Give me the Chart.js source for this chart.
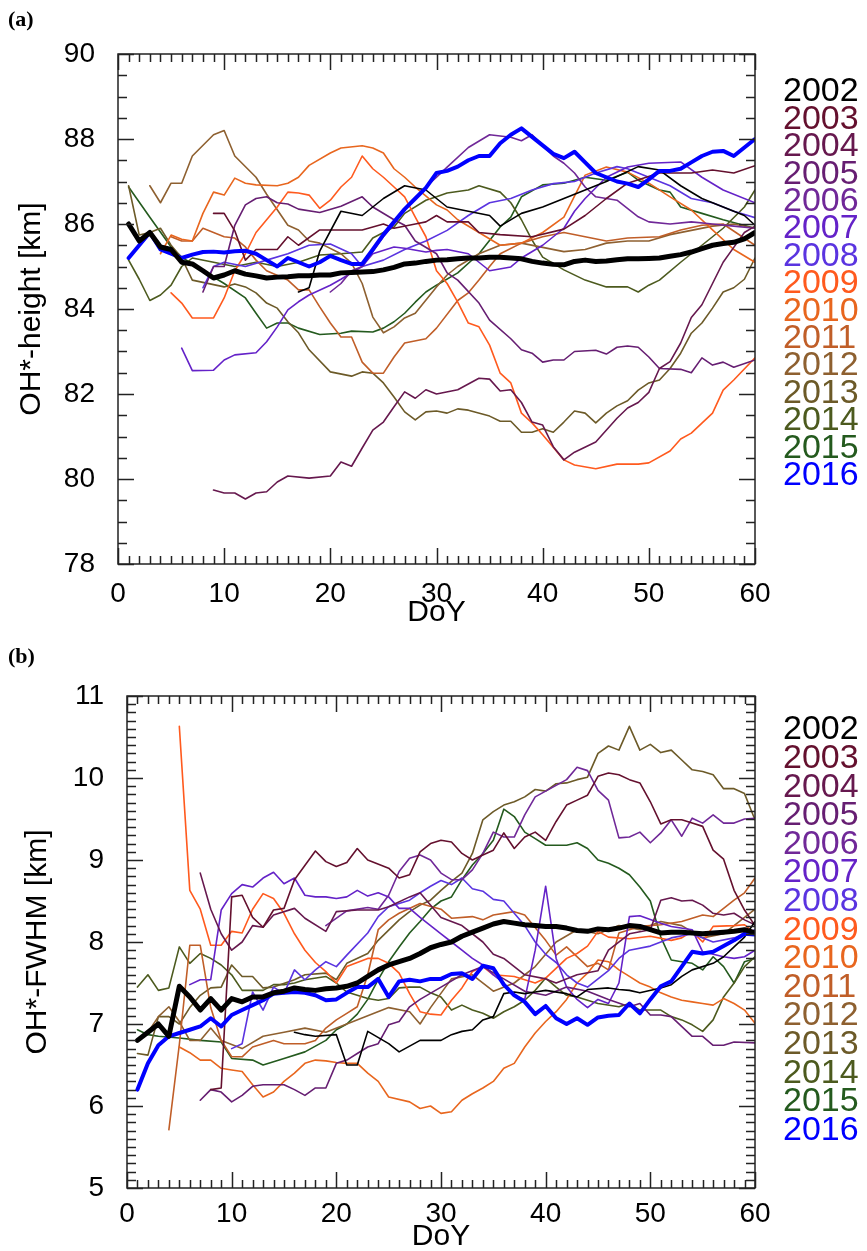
<!DOCTYPE html>
<html>
<head>
<meta charset="utf-8">
<script src="https://cdn.jsdelivr.net/npm/chart.js@4.4.1/dist/chart.umd.min.js"></script>
<style>
html, body { margin: 0; padding: 0; background: #fff; }
#wrap { position: relative; width: 867px; height: 1251px; overflow: hidden; }
canvas { position: absolute; left: 0; }
</style>
</head>
<body>
<div id="wrap">
<canvas id="chartA" width="867" height="640" style="top:0"></canvas>
<canvas id="chartB" width="867" height="611" style="top:640px"></canvas>
</div>
<script>
const years = [2002, 2003, 2004, 2005, 2006, 2007, 2008, 2009, 2010, 2011, 2012, 2013, 2014, 2015, 2016];
const yearColors = ['#000000', '#64102e', '#66184e', '#661e72', '#702898', '#6422c8', '#5a34e0',
  '#ff5a1e', '#e8661e', '#c05e28', '#8e6030', '#6c5a28', '#4c5a1e', '#245a1e', '#0000ff'];

const days = [1, 2, 3, 4, 5, 6, 7, 8, 9, 10, 11, 12, 13, 14, 15, 16, 17, 18, 19, 20,
  21, 22, 23, 24, 25, 26, 27, 28, 29, 30, 31, 32, 33, 34, 35, 36, 37, 38, 39, 40,
  41, 42, 43, 44, 45, 46, 47, 48, 49, 50, 51, 52, 53, 54, 55, 56, 57, 58, 59, 60];

// (a) OH*-height [km]
const meanHeight = [86.0, 85.6, 85.8, 85.46, 85.4, 85.1, 85.06, 84.9, 84.73, 84.8,
  84.9, 84.82, 84.78, 84.73, 84.75, 84.76, 84.78, 84.78, 84.8, 84.8,
  84.85, 84.86, 84.87, 84.88, 84.92, 84.98, 85.06, 85.08, 85.12, 85.15,
  85.16, 85.18, 85.2, 85.2, 85.22, 85.22, 85.2, 85.18, 85.12, 85.08,
  85.05, 85.04, 85.12, 85.15, 85.12, 85.13, 85.16, 85.18, 85.18, 85.19,
  85.2, 85.24, 85.28, 85.34, 85.42, 85.5, 85.54, 85.57, 85.65, 85.8];
const height2016 = [85.2, 85.5, 85.8, 85.4, 85.3, 85.2, 85.28, 85.34, 85.35, 85.33,
  85.36, 85.37, 85.3, 85.15, 85.0, 85.2, 85.1, 85.0, 85.1, 85.25,
  85.15, 85.06, 85.06, 85.4, 85.75, 86.05, 86.35, 86.6, 86.85, 87.2,
  87.25, 87.35, 87.5, 87.6, 87.6, 87.9, 88.1, 88.25, 88.05, 87.85,
  87.65, 87.55, 87.7, 87.45, 87.2, 87.1, 87.0, 86.95, 86.87, 87.05,
  87.25, 87.25, 87.3, 87.45, 87.6, 87.7, 87.72, 87.6, 87.8, 88.0];
const height2002 = [[17, 84.4], [18, 84.5], [19, 85.36], [21, 86.3], [23, 86.2], [25, 86.6], [27, 86.9], [29, 86.8],
  [31, 86.4], [33, 86.3], [35, 86.2], [36, 85.95], [38, 86.25], [40, 86.4], [42, 86.6], [45, 86.9], [46, 87.0],
  [49, 87.35], [51, 87.27], [53, 86.9], [55, 86.6], [57, 86.4], [59, 86.2], [60, 85.97]];
const height2003 = [[9, 86.25], [10, 86.25], [11, 85.84], [12, 85.15], [13, 85.4], [15, 85.4], [16, 85.7], [17, 85.5],
  [19, 85.86], [23, 85.86], [25, 86.0], [26, 85.9], [28, 86.0], [29, 86.05], [30, 86.2], [31, 86.05], [33, 86.05],
  [34, 85.8], [36, 85.75], [39, 85.7], [42, 85.88], [44, 86.2], [46, 86.6], [48, 86.96], [51, 87.2], [54, 87.2],
  [56, 87.27], [58, 87.2], [60, 87.37]];
const height2004 = [[9, 79.74], [10, 79.67], [11, 79.67], [12, 79.53], [13, 79.67], [14, 79.7], [15, 79.93], [16, 80.07],
  [18, 80.02], [20, 80.07], [21, 80.4], [22, 80.3], [23, 80.73], [24, 81.15], [25, 81.34], [26, 81.7], [27, 82.05],
  [28, 81.9], [29, 82.1], [30, 82.0], [32, 82.1], [34, 82.37], [35, 82.35], [36, 82.07], [37, 82.1], [38, 81.8],
  [39, 81.34], [40, 81.27], [41, 80.76], [42, 80.45], [43, 80.63], [45, 80.87], [47, 81.43], [48, 81.67], [49, 81.8],
  [50, 82.04], [51, 82.6], [52, 82.76], [53, 83.2], [54, 83.8], [55, 84.1], [56, 84.6], [57, 85.1], [58, 85.45],
  [59, 85.8], [60, 85.95]];
const height2005 = [[8, 84.4], [9, 85.0], [10, 85.0], [11, 85.97], [12, 86.45], [13, 86.6], [14, 86.64], [15, 86.5],
  [16, 86.47], [17, 86.35], [19, 86.27], [21, 86.42], [23, 86.64], [24, 86.4], [26, 86.1], [27, 85.97], [28, 85.6],
  [30, 85.3], [31, 84.85], [32, 84.68], [34, 84.14], [35, 83.74], [37, 83.3], [38, 83.04], [39, 82.96], [40, 82.75],
  [41, 82.8], [42, 82.8], [43, 83.0], [45, 83.03], [46, 82.94], [47, 83.1], [48, 83.13], [49, 83.1], [50, 82.87],
  [51, 82.6], [53, 82.58], [54, 82.5], [55, 82.85], [56, 82.68], [57, 82.75], [58, 82.63], [60, 82.8]];
const height2006 = [[20, 84.4], [21, 84.6], [22, 84.9], [23, 85.0], [24, 85.35], [25, 85.7], [26, 86.0], [27, 86.35],
  [28, 86.6], [29, 86.87], [30, 87.1], [31, 87.34], [33, 87.8], [35, 88.1], [37, 88.04], [38, 87.96], [39, 88.1],
  [41, 87.6], [42, 87.43], [43, 87.2], [44, 86.87], [45, 86.64], [47, 86.56], [49, 86.17], [50, 86.05], [52, 86.0],
  [54, 86.05], [56, 86.0], [58, 85.95], [60, 85.9]];
const height2007 = [[6, 83.08], [7, 82.55], [9, 82.56], [10, 82.8], [11, 82.92], [13, 82.97], [14, 83.23], [15, 83.58],
  [16, 83.98], [17, 84.17], [18, 84.33], [20, 84.56], [21, 84.7], [23, 85.0], [24, 85.3], [26, 85.46], [27, 85.43],
  [29, 85.34], [30, 85.38], [31, 85.4], [33, 85.3], [35, 84.9], [37, 84.99], [38, 85.2], [40, 85.5], [42, 85.9],
  [43, 86.3], [44, 86.6], [46, 87.1], [48, 87.34], [50, 87.43], [53, 87.46], [55, 87.1], [57, 86.8], [60, 86.5]];
const height2008 = [[8, 84.5], [9, 85.0], [10, 85.1], [12, 85.0], [14, 85.15], [16, 85.3], [18, 85.5], [20, 85.53],
  [22, 85.3], [23, 85.0], [25, 85.15], [27, 85.4], [29, 85.6], [31, 85.85], [33, 86.2], [35, 86.5], [37, 86.6],
  [39, 86.8], [41, 86.95], [43, 87.0], [45, 87.2], [47, 87.35], [48, 87.3], [50, 87.1], [52, 86.9], [54, 86.6],
  [56, 86.5], [58, 86.3], [60, 86.15]];
const height2009 = [[5, 84.38], [6, 84.14], [7, 83.79], [9, 83.79], [10, 84.26], [11, 84.9], [12, 85.3], [13, 85.8],
  [14, 86.1], [15, 86.4], [16, 86.75], [17, 86.73], [18, 86.68], [19, 86.37], [20, 86.56], [21, 86.87], [22, 87.1],
  [23, 87.6], [24, 87.3], [25, 87.1], [26, 86.87], [27, 86.64], [28, 86.16], [29, 85.7], [30, 84.9], [31, 84.6],
  [32, 84.16], [33, 83.67], [34, 83.58], [35, 83.15], [36, 82.49], [37, 82.26], [38, 81.55], [39, 81.32], [40, 81.04],
  [42, 80.45], [43, 80.33], [45, 80.24], [47, 80.35], [49, 80.35], [50, 80.38], [52, 80.66], [53, 80.94], [54, 81.08],
  [56, 81.55], [57, 82.09], [58, 82.33], [60, 82.85]];
const height2010 = [[4, 85.3], [5, 85.74], [6, 85.64], [7, 85.6], [8, 86.25], [9, 86.75], [10, 86.68], [11, 87.08],
  [12, 86.96], [13, 86.92], [15, 86.9], [16, 86.96], [17, 87.1], [18, 87.38], [20, 87.67], [21, 87.79], [23, 87.84],
  [24, 87.79], [25, 87.67], [26, 87.3], [27, 87.1], [28, 86.87], [30, 86.45], [31, 86.33], [32, 86.1], [34, 85.8],
  [36, 85.5], [38, 85.55], [40, 85.8], [42, 86.16], [44, 87.15], [46, 87.34], [48, 87.22], [50, 86.96], [52, 86.64],
  [54, 86.33], [56, 85.86], [58, 85.4], [60, 85.1]];
const height2011 = [[5, 85.7], [6, 85.6], [7, 85.6], [8, 85.9], [10, 85.7], [11, 85.67], [12, 85.46], [13, 85.15],
  [14, 84.9], [16, 84.68], [17, 84.45], [18, 84.45], [19, 84.05], [20, 83.67], [21, 83.34], [22, 83.34], [23, 82.75],
  [24, 82.49], [25, 82.49], [26, 82.87], [27, 83.2], [29, 83.3], [30, 83.55], [32, 84.2], [33, 84.38], [34, 84.68],
  [35, 85.0], [36, 85.3], [38, 85.55], [40, 85.7], [42, 85.8], [44, 85.7], [46, 85.6], [48, 85.67], [51, 85.7],
  [53, 85.86], [55, 85.97], [57, 86.0], [60, 85.5]];
const height2012 = [[3, 86.9], [4, 86.5], [5, 86.96], [6, 86.96], [7, 87.6], [9, 88.1], [10, 88.2], [11, 87.6],
  [13, 87.1], [14, 86.7], [16, 85.97], [17, 85.86], [18, 85.6], [19, 85.55], [21, 85.3], [22, 85.08], [23, 84.6],
  [24, 83.81], [25, 83.44], [26, 83.58], [27, 83.79], [28, 83.9], [30, 84.52], [31, 84.8], [32, 85.0], [34, 85.3],
  [36, 85.5], [38, 85.55], [40, 85.45], [42, 85.35], [44, 85.4], [46, 85.55], [48, 85.6], [50, 85.6], [52, 85.75],
  [54, 85.85], [56, 85.95], [58, 86.0], [60, 85.9]];
const height2013 = [[1, 86.9], [2, 85.74], [3, 85.8], [4, 85.9], [5, 85.5], [6, 85.2], [7, 84.68], [10, 84.52],
  [11, 84.59], [12, 84.52], [13, 84.38], [14, 84.14], [15, 84.02], [16, 83.7], [17, 83.44], [18, 83.04], [20, 82.52],
  [22, 82.42], [23, 82.52], [24, 82.49], [25, 82.26], [26, 81.93], [27, 81.58], [28, 81.39], [29, 81.58], [30, 81.6],
  [31, 81.55], [32, 81.65], [33, 81.62], [35, 81.48], [36, 81.36], [37, 81.36], [38, 81.1], [39, 81.1], [40, 81.18],
  [41, 81.1], [42, 81.34], [43, 81.6], [44, 81.55], [45, 81.32], [46, 81.55], [47, 81.72], [48, 81.84], [49, 82.09],
  [50, 82.26], [51, 82.33], [52, 82.6], [53, 82.96], [54, 83.43], [55, 83.67], [56, 84.02], [57, 84.4], [58, 84.5],
  [59, 84.7], [60, 85.2]];
const height2014 = [[1, 85.15], [2, 84.7], [3, 84.2], [4, 84.33], [5, 84.56], [6, 85.0], [7, 85.2], [9, 85.1],
  [11, 85.0], [13, 85.1], [15, 85.0], [17, 85.1], [19, 85.27], [21, 85.3], [23, 85.34], [24, 85.67], [26, 85.93],
  [27, 86.25], [29, 86.56], [30, 86.64], [31, 86.73], [33, 86.8], [34, 86.9], [36, 86.75], [37, 86.5], [38, 86.1],
  [39, 85.62], [40, 85.22], [42, 84.92], [44, 84.68], [46, 84.52], [48, 84.52], [49, 84.4], [50, 84.56], [51, 84.68],
  [53, 85.1], [55, 85.5], [57, 85.9], [59, 86.4], [60, 86.8]];
const height2015 = [[1, 86.87], [3, 86.16], [5, 85.46], [6, 85.22], [8, 84.9], [10, 84.6], [12, 84.26], [13, 83.9],
  [14, 83.55], [15, 83.67], [16, 83.67], [17, 83.55], [19, 83.4], [21, 83.43], [22, 83.48], [24, 83.46], [25, 83.55],
  [26, 83.7], [27, 83.9], [28, 84.16], [29, 84.4], [30, 84.56], [32, 84.85], [34, 85.3], [36, 85.93], [37, 86.16],
  [38, 86.64], [40, 86.92], [42, 86.96], [44, 87.1], [46, 87.03], [48, 87.22], [49, 87.03], [51, 86.8], [52, 86.75],
  [53, 86.4], [55, 86.25], [57, 86.1], [60, 85.9]];

// (b) OH*-FWHM [km]
const meanFwhm = [6.8, 6.9, 7.0, 6.85, 7.46, 7.33, 7.17, 7.31, 7.17, 7.31,
  7.27, 7.33, 7.33, 7.38, 7.4, 7.44, 7.42, 7.41, 7.43, 7.44,
  7.46, 7.5, 7.58, 7.66, 7.72, 7.76, 7.8, 7.86, 7.93, 7.97,
  8.0, 8.07, 8.12, 8.17, 8.22, 8.25, 8.23, 8.21, 8.2, 8.19,
  8.19, 8.17, 8.14, 8.13, 8.16, 8.15, 8.17, 8.2, 8.19, 8.15,
  8.11, 8.12, 8.12, 8.11, 8.1, 8.11, 8.12, 8.13, 8.15, 8.11];
const fwhm2016 = [6.2, 6.52, 6.74, 6.85, 6.89, 6.93, 6.97, 7.07, 6.97, 7.11,
  7.17, 7.23, 7.29, 7.37, 7.38, 7.39, 7.38, 7.35, 7.29, 7.3,
  7.38, 7.45, 7.45, 7.55, 7.33, 7.52, 7.54, 7.52, 7.55, 7.55,
  7.61, 7.62, 7.55, 7.71, 7.68, 7.48, 7.35, 7.27, 7.12, 7.22,
  7.07, 7.0, 7.07, 6.99, 7.08, 7.1, 7.11, 7.25, 7.13, 7.3,
  7.46, 7.52, 7.7, 7.88, 7.86, 7.88, 7.95, 8.02, 8.1, 8.09];
const fwhm2002 = [[16, 6.9], [17, 6.87], [18, 6.85], [20, 6.87], [21, 6.5], [22, 6.5], [23, 6.91], [25, 6.76],
  [26, 6.66], [28, 6.8], [30, 6.8], [31, 6.87], [32, 6.91], [33, 6.93], [34, 7.05], [35, 7.09], [36, 7.37], [37, 7.39],
  [38, 7.37], [39, 7.39], [40, 7.41], [42, 7.37], [43, 7.33], [44, 7.42], [46, 7.44], [47, 7.42], [48, 7.41],
  [49, 7.38], [51, 7.44], [52, 7.48], [53, 7.58], [54, 7.66], [56, 7.74], [57, 7.82], [58, 7.94], [59, 8.06], [60, 8.25]];
const fwhm2003 = [[8, 6.2], [9, 6.22], [10, 8.55], [11, 8.57], [12, 8.3], [13, 8.18], [14, 8.39], [15, 8.41],
  [16, 8.76], [18, 9.11], [19, 8.98], [20, 8.92], [21, 8.97], [22, 9.14], [23, 9.0], [25, 8.9], [26, 8.78], [27, 8.82],
  [28, 9.1], [29, 9.2], [30, 9.24], [31, 9.22], [32, 9.08], [33, 9.0], [34, 9.06], [35, 9.12], [36, 9.33], [37, 9.14],
  [38, 9.28], [39, 9.34], [40, 9.24], [41, 9.47], [42, 9.67], [43, 9.73], [44, 9.79], [45, 10.02], [46, 10.06],
  [47, 10.04], [48, 9.98], [49, 9.94], [50, 9.71], [51, 9.44], [52, 9.49], [53, 9.49], [54, 9.45], [55, 9.41],
  [56, 9.12], [57, 9.01], [58, 8.63], [59, 8.39], [60, 8.2]];
const fwhm2004 = [[7, 8.84], [8, 8.4], [9, 8.1], [10, 7.9], [11, 8.0], [12, 8.2], [13, 8.18], [14, 8.33], [16, 8.41],
  [17, 8.29], [19, 8.13], [20, 8.37], [22, 8.39], [24, 8.39], [25, 8.43], [27, 8.55], [28, 8.6], [30, 8.3], [32, 8.2],
  [34, 8.0], [35, 7.85], [36, 7.8], [38, 7.6], [40, 7.55], [41, 7.5], [43, 7.6], [45, 7.65], [46, 7.9], [48, 8.1],
  [50, 8.15], [51, 8.51], [52, 8.54], [53, 8.5], [54, 8.51], [55, 8.45], [56, 8.35], [57, 8.33], [58, 8.35],
  [59, 8.27], [60, 8.21]];
const fwhm2005 = [[7, 6.07], [8, 6.2], [9, 6.17], [10, 6.05], [11, 6.13], [12, 6.24], [13, 6.26], [15, 6.26], [16, 6.2],
  [17, 6.13], [18, 6.22], [19, 6.22], [20, 6.52], [21, 6.56], [22, 6.64], [23, 6.72], [24, 6.76], [25, 6.99], [26, 7.03],
  [27, 7.21], [28, 7.3], [30, 7.45], [32, 7.6], [34, 7.7], [36, 7.55], [38, 7.4], [40, 7.35], [42, 7.45], [44, 7.4],
  [46, 7.3], [48, 7.21], [49, 7.25], [50, 7.11], [51, 7.11], [52, 7.09], [54, 6.85], [55, 6.85], [56, 6.74],
  [57, 6.74], [58, 6.78], [60, 6.77]];
const fwhm2006 = [[19, 8.2], [21, 8.38], [23, 8.42], [24, 8.4], [25, 8.57], [26, 8.86], [27, 9.02], [28, 9.06],
  [29, 9.0], [30, 8.84], [31, 8.76], [32, 8.76], [33, 8.88], [34, 9.08], [35, 9.34], [36, 9.28], [37, 9.28], [38, 9.55],
  [39, 9.77], [41, 9.91], [42, 9.98], [43, 10.13], [44, 10.09], [45, 9.85], [46, 9.73], [47, 9.27], [48, 9.28],
  [49, 9.34], [50, 9.21], [51, 9.33], [52, 9.49], [53, 9.29], [54, 9.51], [55, 9.45], [56, 9.55], [57, 9.45],
  [58, 9.45], [59, 9.5], [60, 9.51]];
const fwhm2007 = [[6, 7.48], [7, 7.54], [8, 7.54], [9, 8.39], [10, 8.59], [11, 8.7], [12, 8.67], [13, 8.78], [14, 8.85],
  [15, 8.71], [16, 8.78], [17, 8.57], [18, 8.55], [19, 8.55], [20, 8.53], [21, 8.55], [22, 8.63], [23, 8.56], [24, 8.6],
  [25, 8.55], [26, 8.41], [27, 8.41], [28, 8.3], [29, 8.2], [30, 8.1], [31, 8.0], [32, 7.9], [33, 7.8], [34, 7.72],
  [35, 7.6], [36, 7.5], [37, 7.35], [38, 7.3], [39, 7.9], [40, 8.68], [41, 7.8], [42, 7.45], [43, 7.3], [44, 7.2],
  [45, 7.3], [46, 7.25], [47, 7.5], [48, 8.31], [49, 8.32], [51, 8.23], [52, 8.19], [54, 8.15], [55, 7.88], [56, 7.85],
  [57, 7.82], [58, 7.8], [59, 7.82], [60, 7.9]];
const fwhm2008 = [[10, 6.7], [11, 6.76], [12, 7.39], [13, 7.17], [14, 7.45], [15, 7.37], [16, 7.66], [17, 7.54],
  [18, 7.66], [19, 7.76], [20, 7.7], [21, 7.84], [23, 8.11], [24, 8.31], [25, 8.43], [26, 8.47], [27, 8.51], [28, 8.6],
  [29, 8.68], [30, 8.75], [31, 8.7], [32, 8.78], [33, 8.65], [34, 8.62], [35, 8.52], [36, 8.5], [37, 8.35], [38, 8.2],
  [39, 8.0], [40, 7.85], [41, 7.75], [42, 7.6], [43, 7.5], [44, 7.45], [45, 7.55], [46, 7.65], [47, 7.8], [48, 7.9],
  [50, 7.95], [52, 8.05], [54, 8.1], [56, 8.0], [58, 8.05], [60, 8.15]];
const fwhm2009 = [[5, 10.63], [6, 8.63], [7, 8.4], [8, 7.96], [9, 7.96], [10, 8.13], [11, 8.11], [12, 8.4], [13, 8.59],
  [14, 8.53], [15, 8.35], [16, 8.1], [17, 7.9], [18, 7.75], [19, 7.64], [20, 7.5], [21, 7.7], [23, 7.8], [24, 7.8],
  [25, 7.74], [26, 7.62], [27, 7.37], [28, 7.15], [29, 7.12], [30, 7.11], [31, 7.29], [32, 7.44], [33, 7.64], [34, 7.7],
  [35, 7.6], [37, 7.58], [39, 7.5], [40, 7.56], [42, 7.8], [43, 7.86], [44, 7.95], [45, 8.13], [46, 8.06], [48, 8.04],
  [50, 8.07], [52, 8.02], [53, 8.05], [54, 8.13], [55, 8.0], [56, 8.19], [58, 8.2], [59, 8.21], [60, 8.11]];
const fwhm2010 = [[5, 6.72], [6, 6.65], [7, 6.56], [8, 6.56], [9, 6.46], [10, 6.44], [11, 6.42], [12, 6.26], [13, 6.11],
  [14, 6.17], [15, 6.3], [16, 6.4], [17, 6.52], [18, 6.56], [19, 6.55], [20, 6.53], [21, 6.52], [22, 6.52], [23, 6.4],
  [24, 6.3], [25, 6.11], [27, 6.05], [28, 5.97], [29, 6.0], [30, 5.91], [31, 5.93], [32, 6.07], [33, 6.15], [34, 6.22],
  [35, 6.3], [36, 6.46], [37, 6.52], [38, 6.72], [39, 6.89], [40, 7.03], [41, 7.15], [42, 7.3], [43, 7.5], [44, 7.62],
  [45, 7.78], [46, 7.76], [47, 7.66], [48, 7.58], [49, 7.5], [50, 7.45], [51, 7.38], [52, 7.33], [53, 7.29], [54, 7.27],
  [55, 7.25], [56, 7.23], [57, 7.31], [58, 7.25], [59, 7.17], [60, 7.01]];
const fwhm2011 = [[4, 5.71], [5, 6.75], [6, 7.96], [7, 7.96], [8, 7.2], [9, 6.8], [10, 6.6], [11, 6.6], [12, 6.72],
  [13, 6.76], [14, 6.8], [15, 6.76], [17, 6.76], [18, 6.8], [19, 6.95], [20, 7.05], [21, 7.13], [22, 7.21], [23, 7.6],
  [24, 8.15], [25, 8.27], [26, 8.35], [28, 8.47], [30, 8.4], [31, 8.29], [33, 8.31], [34, 8.27], [35, 8.33], [37, 8.37],
  [38, 8.33], [40, 8.02], [41, 7.84], [42, 7.94], [44, 7.7], [45, 7.74], [46, 7.66], [47, 8.11], [49, 8.19], [51, 8.21],
  [53, 8.25], [55, 8.33], [56, 8.31], [58, 8.51], [59, 8.6], [60, 8.78]];
const fwhm2012 = [[2, 6.9], [3, 7.09], [4, 7.21], [5, 7.03], [6, 6.8], [7, 6.8], [8, 6.95], [9, 6.8], [11, 6.7],
  [13, 6.85], [15, 6.9], [17, 6.95], [19, 6.9], [21, 7.0], [23, 7.1], [25, 7.2], [27, 7.15], [28, 7.0], [29, 7.2],
  [31, 7.55], [33, 7.6], [35, 7.4], [37, 7.5], [39, 7.7], [41, 8.0], [43, 8.15], [45, 8.1], [47, 8.2], [49, 8.15],
  [51, 8.25], [53, 8.2], [55, 8.05], [57, 8.1], [59, 8.3], [60, 8.4]];
const fwhm2013 = [[1, 6.64], [2, 6.62], [3, 7.09], [4, 7.09], [5, 7.0], [6, 7.2], [7, 7.35], [8, 7.44], [9, 7.45],
  [10, 7.72], [11, 7.58], [12, 7.58], [13, 7.44], [14, 7.45], [16, 7.54], [17, 7.6], [19, 7.62], [20, 7.54], [21, 7.74],
  [23, 7.86], [24, 8.02], [26, 8.27], [27, 8.37], [28, 8.45], [29, 8.51], [30, 8.63], [31, 8.74], [32, 8.84], [33, 9.08],
  [34, 9.49], [35, 9.59], [36, 9.67], [37, 9.71], [38, 9.77], [39, 9.86], [40, 9.84], [41, 9.93], [42, 9.94], [43, 9.98],
  [44, 10.01], [45, 10.3], [46, 10.39], [47, 10.34], [48, 10.63], [49, 10.34], [50, 10.41], [51, 10.31], [52, 10.34],
  [53, 10.22], [54, 10.1], [55, 10.08], [56, 10.04], [57, 9.87], [58, 9.87], [59, 9.81], [60, 9.49]];
const fwhm2014 = [[1, 7.45], [2, 7.6], [3, 7.41], [4, 7.44], [5, 7.94], [6, 7.74], [7, 7.86], [8, 7.8], [9, 7.72],
  [10, 7.6], [11, 7.41], [13, 7.41], [14, 7.48], [15, 7.48], [16, 7.5], [17, 7.54], [19, 7.58], [20, 7.5], [21, 7.39],
  [23, 7.31], [24, 7.29], [25, 7.31], [26, 7.44], [27, 7.45], [28, 7.45], [29, 7.38], [30, 7.33], [31, 7.17], [32, 7.23],
  [33, 7.17], [34, 7.13], [35, 7.07], [36, 7.15], [37, 7.21], [38, 7.29], [39, 7.41], [40, 7.56], [41, 7.45], [42, 7.35],
  [43, 7.33], [44, 7.29], [45, 7.25], [47, 7.21], [48, 7.25], [49, 7.17], [51, 7.17], [52, 7.09], [53, 7.05], [54, 6.99],
  [55, 6.91], [56, 7.05], [57, 7.33], [58, 7.5], [59, 7.7], [60, 7.82]];
const fwhm2015 = [[1, 6.93], [2, 6.87], [3, 6.85], [5, 6.83], [7, 6.8], [9, 6.78], [10, 6.58], [12, 6.56], [13, 6.5],
  [15, 6.58], [17, 6.66], [19, 6.8], [20, 6.93], [21, 7.0], [22, 7.12], [23, 7.3], [24, 7.54], [25, 7.76], [26, 7.94],
  [27, 8.11], [28, 8.25], [29, 8.4], [30, 8.5], [31, 8.55], [32, 8.76], [33, 8.94], [34, 9.08], [35, 9.24], [36, 9.62],
  [37, 9.53], [38, 9.34], [39, 9.26], [40, 9.18], [42, 9.18], [43, 9.21], [44, 9.14], [45, 9.0], [46, 8.96], [47, 8.9],
  [48, 8.82], [49, 8.67], [50, 8.5], [51, 8.06], [52, 7.78], [53, 7.76], [54, 7.74], [55, 7.66], [56, 7.82], [57, 7.7],
  [58, 7.5], [59, 7.76], [60, 7.8]];

const heightYears = [height2002, height2003, height2004, height2005, height2006, height2007, height2008,
  height2009, height2010, height2011, height2012, height2013, height2014, height2015];
const fwhmYears = [fwhm2002, fwhm2003, fwhm2004, fwhm2005, fwhm2006, fwhm2007, fwhm2008,
  fwhm2009, fwhm2010, fwhm2011, fwhm2012, fwhm2013, fwhm2014, fwhm2015];

const FONT = '"Liberation Sans", Arial, sans-serif';

function daily(vals) {
  return vals.map((v, i) => ({ x: days[i], y: v }));
}
function pairs(list) {
  return list.map(([d, v]) => ({ x: d, y: v }));
}

function buildDatasets(mean, blue, yearData) {
  const sets = [
    { label: 'mean', data: daily(mean), borderColor: '#000000', borderWidth: 5 },
    { label: '2016', data: daily(blue), borderColor: '#0000ff', borderWidth: 4 }
  ];
  yearData.forEach((d, i) => {
    sets.push({ label: String(years[i]), data: pairs(d), borderColor: yearColors[i], borderWidth: 1.6 });
  });
  return sets;
}

// inward tick marks on all four sides, like the original IDL plot
const frameTicks = {
  id: 'frameTicks',
  afterDraw(chart, args, opts) {
    const { ctx, chartArea: a } = chart;
    const x = chart.scales.x, y = chart.scales.y;
    ctx.save();
    ctx.strokeStyle = '#222';
    ctx.lineWidth = 1.5;
    ctx.strokeRect(a.left, a.top, a.right - a.left, a.bottom - a.top);
    ctx.beginPath();
    for (let d = 0; d <= 60; d++) {
      const px = Math.round(x.getPixelForValue(d)) + 0.5;
      const len = d % 10 === 0 ? 16 : 8;
      ctx.moveTo(px, a.bottom); ctx.lineTo(px, a.bottom - len);
      ctx.moveTo(px, a.top); ctx.lineTo(px, a.top + len);
    }
    const n = Math.round((y.max - y.min) / opts.minor);
    for (let i = 0; i <= n; i++) {
      const py = Math.round(y.getPixelForValue(y.min + i * opts.minor)) + 0.5;
      const len = i % opts.per === 0 ? 16 : 9;
      ctx.moveTo(a.left, py); ctx.lineTo(a.left + len, py);
      ctx.moveTo(a.right, py); ctx.lineTo(a.right - len, py);
    }
    ctx.stroke();
    ctx.restore();
  }
};

const yearLegend = {
  id: 'yearLegend',
  afterDraw(chart, args, opts) {
    const ctx = chart.ctx;
    ctx.save();
    ctx.font = opts.size + 'px ' + FONT;
    ctx.textAlign = 'left';
    ctx.textBaseline = 'middle';
    years.forEach((yr, i) => {
      ctx.fillStyle = yearColors[i];
      ctx.fillText(String(yr), opts.x, opts.top + i * opts.step);
    });
    ctx.restore();
  }
};

const panelLabel = {
  id: 'panelLabel',
  afterDraw(chart, args, opts) {
    const ctx = chart.ctx;
    ctx.save();
    ctx.font = 'bold 22px "Liberation Serif", "Times New Roman", serif';
    ctx.fillStyle = '#000';
    ctx.textAlign = 'left';
    ctx.textBaseline = 'middle';
    ctx.fillText(opts.text, opts.x, opts.y);
    ctx.restore();
  }
};

function makeChart(id, cfg) {
  return new Chart(document.getElementById(id), {
    type: 'line',
    data: { datasets: buildDatasets(cfg.mean, cfg.blue, cfg.yearData) },
    options: {
      responsive: false,
      animation: false,
      events: [],
      elements: {
        point: { radius: 0 },
        line: { tension: 0, fill: false, borderJoinStyle: 'round', borderCapStyle: 'round' }
      },
      layout: { padding: cfg.padding },
      plugins: {
        legend: { display: false },
        tooltip: { enabled: false },
        frameTicks: { minor: cfg.minor, per: cfg.per },
        yearLegend: cfg.legend,
        panelLabel: cfg.label
      },
      scales: {
        x: {
          type: 'linear', min: 0, max: 60,
          afterFit: s => { s.height = cfg.xHeight; },
          grid: { display: false }, border: { display: false },
          ticks: { stepSize: 10, color: '#000', font: { family: FONT, size: 28 }, padding: cfg.xTickPad, maxRotation: 0 },
          title: { display: true, text: 'DoY', color: '#000', font: { family: FONT, size: 30 }, padding: { top: 0, bottom: cfg.xTitlePad } }
        },
        y: {
          type: 'linear', min: cfg.yMin, max: cfg.yMax,
          afterFit: s => { s.width = cfg.yWidth; },
          grid: { display: false }, border: { display: false },
          ticks: { stepSize: cfg.yStep, color: '#000', font: { family: FONT, size: 28 }, padding: 15 },
          title: { display: true, text: cfg.yTitle, color: '#000', font: { family: FONT, size: 30 }, padding: { top: cfg.yTitlePad, bottom: 0 } }
        }
      }
    },
    plugins: [frameTicks, yearLegend, panelLabel]
  });
}

makeChart('chartA', {
  mean: meanHeight, blue: height2016, yearData: heightYears,
  yMin: 78, yMax: 90, yStep: 2, minor: 0.5, per: 4,
  yTitle: 'OH*-height [km]', yWidth: 118, yTitlePad: 14,
  xHeight: 70, xTickPad: 5, xTitlePad: 3,
  padding: { left: 0, right: 112, top: 54, bottom: 6 },
  legend: { x: 783, top: 92, step: 27.4, size: 34 },
  label: { text: '(a)', x: 8, y: 20 }
});

makeChart('chartB', {
  mean: meanFwhm, blue: fwhm2016, yearData: fwhmYears,
  yMin: 5, yMax: 11, yStep: 1, minor: 0.1, per: 10,
  yTitle: 'OH*-FWHM [km]', yWidth: 127, yTitlePad: 20,
  xHeight: 63, xTickPad: 1, xTitlePad: -4,
  padding: { left: 0, right: 112, top: 56, bottom: 0 },
  legend: { x: 783, top: 90, step: 28.6, size: 34 },
  label: { text: '(b)', x: 8, y: 17 }
});
</script>
</body>
</html>
